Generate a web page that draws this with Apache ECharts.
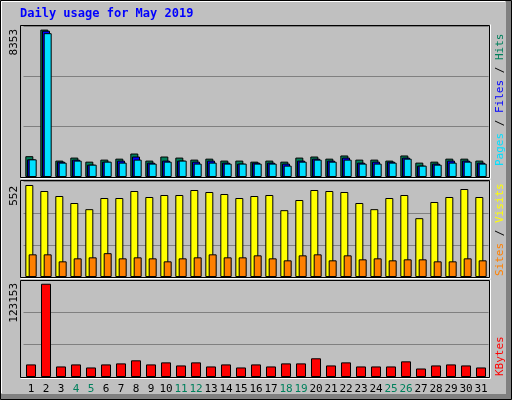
<!DOCTYPE html>
<html><head><meta charset="utf-8">
<script src="https://cdn.jsdelivr.net/npm/echarts@6/dist/echarts.min.js"></script>
<style>html,body{margin:0;padding:0;background:#c0c0c0}#c{width:512px;height:400px}</style>
</head><body><div id="c"></div>
<script>
const days = ['1','2','3','4','5','6','7','8','9','10','11','12','13','14','15','16','17','18','19','20','21','22','23','24','25','26','27','28','29','30','31'];
const weekend = ['4','5','11','12','18','19','25','26'];
const hits  = [1180,8353,930,1100,870,985,1040,1330,930,1160,1100,985,1040,930,930,870,930,870,1100,1160,1040,1220,985,985,930,1220,815,870,1040,1040,930];
const files = [1000,8290,870,985,700,870,930,1160,815,930,930,870,930,815,760,815,815,760,930,1040,930,1100,815,870,870,1100,645,760,930,930,815];
const pages = [1000,8150,815,930,700,870,815,985,760,870,930,760,815,760,760,760,760,645,870,985,870,985,760,760,815,1040,645,700,815,870,760];
const visits = [552,516,486,444,407,474,474,516,480,492,492,522,510,498,474,486,492,401,462,522,516,510,444,407,474,492,353,450,480,528,480];
const sites  = [136,136,94,112,118,143,112,118,112,94,112,118,136,118,118,130,112,100,130,136,100,130,106,112,100,106,106,94,94,112,100];
const kbytes = [16630,123153,13935,16630,12590,16630,17980,22030,16630,19330,15280,19330,13935,16630,12590,16630,13935,17980,17980,24720,15280,19330,13935,13935,13935,20680,11240,15280,16630,15280,12590];
const maxLabels = ['8353','552','123153'];

const M1=8557, M2=576, M3=128100;
const mono='DejaVu Sans Mono';
const panels=[[25,177],[180,277],[280,377]];
const gl=23.5, gw=465;
function grid(top,h){return {left:gl,top:top,width:gw,height:h};}
function xa(i,show){return {type:'category',data:days,gridIndex:i,axisLine:{show:false},axisTick:{show:false},
  axisLabel:{show:show,interval:0,fontFamily:mono,fontSize:11,margin:7,
    color:(v)=>weekend.includes(v)?'#00805c':'#000'}};}
function ya(i,M){return {type:'value',gridIndex:i,min:0,max:M,interval:M/3,axisLabel:{show:false},axisLine:{show:false},axisTick:{show:false},
  splitLine:{lineStyle:{color:'#808080',width:1}}};}
const bs={borderColor:'#000',borderWidth:1};
const g=[];
// outer frame
g.push({type:'rect',shape:{x:0.5,y:0.5,width:511,height:399},style:{fill:'#c0c0c0',stroke:'#000'},z:-10});
g.push({type:'rect',shape:{x:506,y:1,width:5,height:398},style:{fill:'#808080'},z:-9});
g.push({type:'rect',shape:{x:1,y:394,width:510,height:5},style:{fill:'#808080'},z:-9});
g.push({type:'polyline',shape:{points:[[1.5,393],[1.5,1.5],[505,1.5]]},style:{stroke:'#fff',fill:null},z:-8});
panels.forEach(p=>{
  g.push({type:'polyline',shape:{points:[[20.5,p[1]+0.5],[20.5,p[0]+0.5],[489.5,p[0]+0.5]]},style:{stroke:'#000',fill:null,lineWidth:1},z:50});
  g.push({type:'polyline',shape:{points:[[20.5,p[1]+0.5],[489.5,p[1]+0.5],[489.5,p[0]+0.5]]},style:{stroke:'#000',fill:null,lineWidth:1},z:50});
  g.push({type:'polyline',shape:{points:[[20.5,p[1]+1.5],[490.5,p[1]+1.5],[490.5,p[0]-0.5]]},style:{stroke:'#fff',fill:null,lineWidth:1},z:50});
});
g.push({type:'text',left:20,top:8,style:{text:'Daily usage for May 2019',fill:'#0000ff',font:'bold 12px '+mono}});
const ly=[29,186,283];
maxLabels.forEach((t,i)=>{
  g.push({type:'text',x:9,y:ly[i],rotation:Math.PI/2,style:{text:t,fill:'#000',font:'11px '+mono,align:'right',verticalAlign:'top'}});
});
function rlab(y,parts){
  g.push({type:'text',x:495,y:y,rotation:Math.PI/2,style:{text:parts.map((p,i)=>'{s'+i+'|'+p[0]+'}').join(''),
    rich:Object.fromEntries(parts.map((p,i)=>['s'+i,{fill:p[1],font:'11px '+mono}])),align:'left',verticalAlign:'top'}});
}
rlab(166,[['Pages','#00e0ff'],[' / ','#000'],['Files','#0000ff'],[' / ','#000'],['Hits','#00805c']]);
rlab(276,[['Sites','#ff8000'],[' / ','#000'],['Visits','#ffff00']]);
rlab(376,[['KBytes','#ff0000']]);

const chart=echarts.init(document.getElementById('c'),null,{renderer:'canvas'});
chart.setOption({
  animation:false,backgroundColor:'#c0c0c0',
  grid:[grid(26,151),grid(181,96),grid(280,97)],
  xAxis:[xa(0,false),xa(1,false),xa(2,true)],
  yAxis:[ya(0,M1),ya(1,M2),ya(2,M3)],
  graphic:g,
  series:[
    {type:'bar',name:'Hits',data:hits,xAxisIndex:0,yAxisIndex:0,barWidth:8,barGap:'-79%',itemStyle:Object.assign({color:'#00805c'},bs)},
    {type:'bar',name:'Files',data:files,xAxisIndex:0,yAxisIndex:0,barWidth:8,barGap:'-79%',itemStyle:Object.assign({color:'#0000ff'},bs)},
    {type:'bar',name:'Pages',data:pages,xAxisIndex:0,yAxisIndex:0,barWidth:8,barGap:'-79%',itemStyle:Object.assign({color:'#00e0ff'},bs)},
    {type:'bar',name:'Visits',data:visits,xAxisIndex:1,yAxisIndex:1,barWidth:8,barGap:'-58%',itemStyle:Object.assign({color:'#ffff00'},bs)},
    {type:'bar',name:'Sites',data:sites,xAxisIndex:1,yAxisIndex:1,barWidth:8,barGap:'-58%',itemStyle:Object.assign({color:'#ff8000'},bs)},
    {type:'bar',name:'KBytes',data:kbytes,xAxisIndex:2,yAxisIndex:2,barWidth:10,itemStyle:Object.assign({color:'#ff0000'},bs)}
  ]
});
</script></body></html>
